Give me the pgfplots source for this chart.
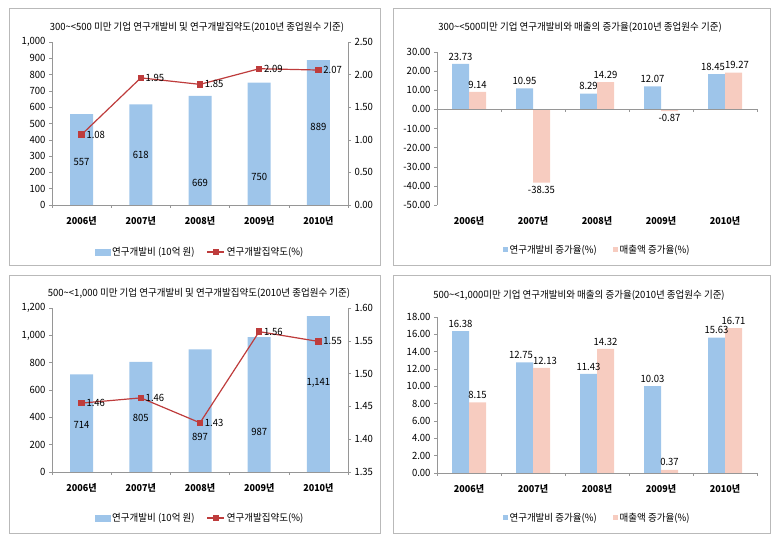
\documentclass[border=0pt]{standalone}
\usepackage{fontspec}
\setmainfont{Noto Sans CJK KR}[FakeStretch=0.95]
\usepackage{pgfplots}
\pgfplotsset{compat=1.18}
\definecolor{barblue}{RGB}{158,197,234}
\definecolor{barred}{RGB}{247,204,192}
\definecolor{linered}{RGB}{190,60,60}
\definecolor{axgray}{RGB}{150,150,150}
\definecolor{framegray}{RGB}{185,185,185}
\newcommand\fs{\fontsize{10}{11}\selectfont}
\newcommand\fc{\fontsize{9.5}{11}\selectfont}
\pgfplotsset{
  common/.style={
    scale only axis, anchor=south west,
    xmin=-0.5, xmax=4.5,
    /pgf/number format/assume math mode=true,
    tick label style={font=\fs, black},
    axis line style={axgray},
    tick align=outside,
    every tick/.style={axgray, thin},
    major tick length=3pt,
    clip=false,
  },
  cats/.style={
    extra x ticks={0,1,2,3,4},
    extra x tick labels={2006년,2007년,2008년,2009년,2010년},
    extra x tick style={major tick length=0pt, xticklabel style={font=\fc\bfseries, yshift=-8pt}},
  },
  dec2/.style={yticklabel style={/pgf/number format/.cd, fixed, fixed zerofill, precision=2}},
  lbl/.style={nodes near coords, nodes near coords align={vertical},
    every node near coord/.append style={font=\fs, black, inner sep=3.5pt, xshift=#1,
      /pgf/number format/.cd, fixed, fixed zerofill, precision=2}},
}
\begin{document}
\begin{tikzpicture}
\path (0pt,0pt) rectangle (778pt,537pt);
\draw[framegray] (9pt,272pt) rectangle (380pt,529pt);
\draw[framegray] (393pt,272pt) rectangle (770pt,529pt);
\draw[framegray] (9pt,4pt) rectangle (380pt,262pt);
\draw[framegray] (393pt,4pt) rectangle (770pt,262pt);
\node[font=\fs] at (197pt,510pt) {300\textasciitilde<500 미만 기업 연구개발비 및 연구개발집약도(2010년 종업원수 기준)};
\node[font=\fs] at (580pt,510pt) {300\textasciitilde<500미만  기업 연구개발비와 매출의 증가율(2010년 종업원수 기준)};
\node[font=\fs] at (199pt,244pt) {500\textasciitilde<1,000 미만 기업 연구개발비 및 연구개발집약도(2010년 종업원수 기준)};
\node[font=\fs] at (579pt,242pt) {500\textasciitilde<1,000미만 기업 연구개발비와 매출의 증가율(2010년 종업원수 기준)};

% ---------- Panel 1 ----------
\begin{axis}[common, cats, at={(52pt,332pt)}, width=296pt, height=163pt,
  ymin=0, ymax=1000, ytick={0,100,...,1000},
  yticklabel style={/pgf/number format/.cd, 1000 sep={,}},
  axis y line*=left, axis x line*=bottom,
  xtick={-0.5,0.5,1.5,2.5,3.5,4.5}, xticklabels={,,,,,}]
\addplot[ybar, bar width=23pt, fill=barblue, draw=none] coordinates {(0,557) (1,618) (2,669) (3,750) (4,889)};
\node[font=\fs] at (axis cs:0,264) {557};
\node[font=\fs] at (axis cs:1,307) {618};
\node[font=\fs] at (axis cs:2,135) {669};
\node[font=\fs] at (axis cs:3,172) {750};
\node[font=\fs] at (axis cs:4,479) {889};
\end{axis}
\begin{axis}[common, at={(52pt,332pt)}, width=296pt, height=163pt,
  ymin=0, ymax=2.5, ytick={0,0.5,1,1.5,2,2.5}, dec2,
  axis y line*=right, axis x line=none,
  legend style={at={(0.5,-0.288)}, anchor=center, draw=none, fill=none, legend columns=2, font=\fs,
    /tikz/every even column/.append style={column sep=10pt}}]
\addlegendimage{legend image code/.code={\fill[barblue] (0pt,-3pt) rectangle (15pt,3pt);}}
\addlegendentry{연구개발비 (10억 원)}
\addplot[linered, line width=1.2pt, mark=square*, mark size=2.6pt, mark options={fill=linered},
  point meta=explicit symbolic, nodes near coords,
  every node near coord/.style={anchor=west, font=\fs, black, xshift=1pt}]
  coordinates {(0,1.08)[1.08] (1,1.95)[1.95] (2,1.85)[1.85] (3,2.09)[2.09] (4,2.07)[2.07]};
\addlegendentry{연구개발집약도(\%)}
\end{axis}

% ---------- Panel 2 ----------
\begin{axis}[common, cats, at={(437pt,332pt)}, width=320pt, height=153pt,
  ymin=-50, ymax=30, ytick={-50,-40,...,30}, dec2,
  axis y line*=left, axis x line*=bottom, x axis line style={draw=none},
  xtick=\empty,
  legend style={at={(0.5,-0.294)}, anchor=center, draw=none, fill=none, legend columns=2, font=\fs,
    /tikz/every even column/.append style={column sep=14pt}}]
\addplot[ybar, bar width=17pt, bar shift=-8.5pt, fill=barblue, draw=none, lbl=-8.5pt,
  coordinate style/.condition={x==4}{xshift=-3.5pt},
  legend image code/.code={\fill[barblue] (0pt,-2.5pt) rectangle (5pt,2.5pt);}]
  coordinates {(0,23.73) (1,10.95) (2,8.29) (3,12.07) (4,18.45)};
\addlegendentry{연구개발비 증가율(\%)}
\addplot[ybar, bar width=17pt, bar shift=8.5pt, fill=barred, draw=none, lbl=8.5pt,
  coordinate style/.condition={x==4}{xshift=3.5pt},
  legend image code/.code={\fill[barred] (0pt,-2.5pt) rectangle (5pt,2.5pt);}]
  coordinates {(0,9.14) (1,-38.35) (2,14.29) (3,-0.87) (4,19.27)};
\addlegendentry{매출액 증가율(\%)}
\draw[axgray] (axis cs:-0.5,0) -- (axis cs:4.5,0);
\pgfplotsinvokeforeach{-0.5,0.5,1.5,2.5,3.5,4.5}{\draw[axgray] (axis cs:#1,0) -- ++(0pt,-3pt);}
\end{axis}

% ---------- Panel 3 ----------
\begin{axis}[common, cats, at={(52pt,65pt)}, width=296pt, height=164pt,
  ymin=0, ymax=1200, ytick={0,200,...,1200},
  yticklabel style={/pgf/number format/.cd, 1000 sep={,}},
  axis y line*=left, axis x line*=bottom,
  xtick={-0.5,0.5,1.5,2.5,3.5,4.5}, xticklabels={,,,,,}]
\addplot[ybar, bar width=23pt, fill=barblue, draw=none] coordinates {(0,714) (1,805) (2,897) (3,987) (4,1141)};
\node[font=\fs] at (axis cs:0,344) {714};
\node[font=\fs] at (axis cs:1,395) {805};
\node[font=\fs] at (axis cs:2,256) {897};
\node[font=\fs] at (axis cs:3,293) {987};
\node[font=\fs] at (axis cs:4,651) {1,141};
\end{axis}
\begin{axis}[common, at={(52pt,65pt)}, width=296pt, height=164pt,
  ymin=1.35, ymax=1.60, ytick={1.35,1.40,1.45,1.50,1.55,1.60}, dec2,
  axis y line*=right, axis x line=none,
  legend style={at={(0.5,-0.28)}, anchor=center, draw=none, fill=none, legend columns=2, font=\fs,
    /tikz/every even column/.append style={column sep=10pt}}]
\addlegendimage{legend image code/.code={\fill[barblue] (0pt,-3pt) rectangle (15pt,3pt);}}
\addlegendentry{연구개발비 (10억 원)}
\addplot[linered, line width=1.2pt, mark=square*, mark size=2.6pt, mark options={fill=linered},
  point meta=explicit symbolic, nodes near coords,
  every node near coord/.style={anchor=west, font=\fs, black, xshift=1pt}]
  coordinates {(0,1.455)[1.46] (1,1.463)[1.46] (2,1.425)[1.43] (3,1.564)[1.56] (4,1.549)[1.55]};
\addlegendentry{연구개발집약도(\%)}
\end{axis}

% ---------- Panel 4 ----------
\begin{axis}[common, cats, at={(437pt,64pt)}, width=320pt, height=156pt,
  ymin=0, ymax=18, ytick={0,2,...,18}, dec2,
  axis y line*=left, axis x line*=bottom,
  xtick={-0.5,0.5,1.5,2.5,3.5,4.5}, xticklabels={,,,,,},
  legend style={at={(0.5,-0.288)}, anchor=center, draw=none, fill=none, legend columns=2, font=\fs,
    /tikz/every even column/.append style={column sep=14pt}}]
\addplot[ybar, bar width=17pt, bar shift=-8.5pt, fill=barblue, draw=none, lbl=-8.5pt,
  coordinate style/.condition={x==1}{xshift=-3.5pt},
  legend image code/.code={\fill[barblue] (0pt,-2.5pt) rectangle (5pt,2.5pt);}]
  coordinates {(0,16.38) (1,12.75) (2,11.43) (3,10.03) (4,15.63)};
\addlegendentry{연구개발비 증가율(\%)}
\addplot[ybar, bar width=17pt, bar shift=8.5pt, fill=barred, draw=none, lbl=8.5pt,
  coordinate style/.condition={x==1}{xshift=3.5pt},
  legend image code/.code={\fill[barred] (0pt,-2.5pt) rectangle (5pt,2.5pt);}]
  coordinates {(0,8.15) (1,12.13) (2,14.32) (3,0.37) (4,16.71)};
\addlegendentry{매출액 증가율(\%)}
\end{axis}
\end{tikzpicture}
\end{document}
